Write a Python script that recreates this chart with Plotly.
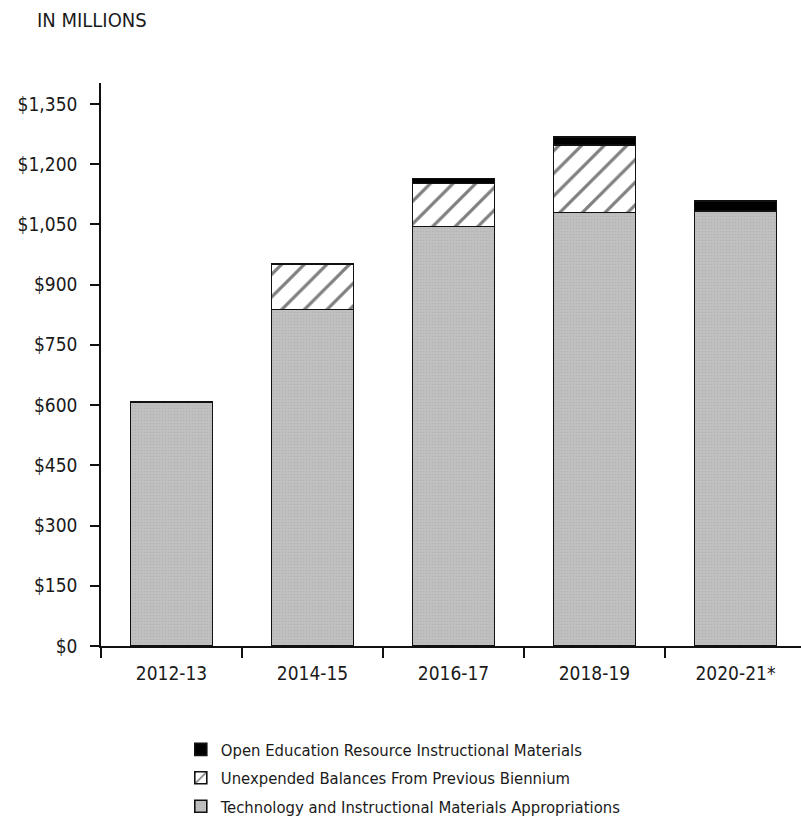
import plotly.graph_objects as go

# Biennium funding, in millions of dollars
biennia = ["2012-13", "2014-15", "2016-17", "2018-19", "2020-21*"]
tech_appropriations = [607, 838, 1045, 1080, 1083]
unexpended_balances = [0, 113, 107, 168, 0]
open_education = [0, 0, 12, 20, 25]

y_ticks = [0, 150, 300, 450, 600, 750, 900, 1050, 1200, 1350]
y_tick_labels = ["$0", "$150", "$300", "$450", "$600", "$750", "$900",
                 "$1,050", "$1,200", "$1,350"]

FONT = "DejaVu Sans Condensed, Liberation Sans Narrow, sans-serif"
INK = "#1a1a1a"
outline = dict(color="#111111", width=1.6)

fig = go.Figure()
fig.add_trace(go.Bar(
    x=biennia, y=tech_appropriations,
    name="Technology and Instructional Materials Appropriations",
    legendgroup="tech", legendrank=3,
    marker=dict(color="#bebebe", line=outline,
                pattern=dict(shape=".", fgcolor="#a6a6a6", bgcolor="#c0c0c0",
                             size=3, solidity=0.25)),
))
fig.add_trace(go.Bar(
    x=biennia, y=unexpended_balances,
    name="Unexpended Balances From Previous Biennium",
    legendgroup="unexp", legendrank=2,
    marker=dict(color="white", line=outline,
                pattern=dict(shape="/", fgcolor="#000000", bgcolor="white",
                             size=16, solidity=0.2)),
))
fig.add_trace(go.Bar(
    x=biennia, y=open_education,
    name="Open Education Resource Instructional Materials",
    legendgroup="oer", legendrank=1,
    marker=dict(color="black", line=outline),
))

fig.update_layout(
    barmode="stack",
    bargap=0.42,
    width=801, height=833,
    margin=dict(l=101, r=0, t=83, b=187),
    paper_bgcolor="white", plot_bgcolor="white",
    font=dict(family=FONT, color=INK, size=17),
    showlegend=True,
    legend=dict(
        traceorder="grouped",
        orientation="v",
        x=0.114, y=-0.153, xanchor="left", yanchor="top",
        font=dict(family=FONT, size=16.5, color=INK),
        tracegroupgap=4,
        bgcolor="rgba(0,0,0,0)",
    ),
    annotations=[dict(
        text="IN MILLIONS", xref="paper", yref="paper",
        x=-0.094, y=1.112, xanchor="left", yanchor="middle",
        showarrow=False, font=dict(family=FONT, size=20, color=INK),
    )],
)

fig.update_xaxes(
    type="category",
    range=[-0.5, 4.465],
    showline=True, linecolor="#111111", linewidth=1.6,
    ticks="outside", ticklen=10, tickwidth=1.6, tickcolor="#111111",
    tickson="boundaries",
    ticklabelstandoff=9,
    tickfont=dict(family=FONT, size=19, color=INK),
    showgrid=False, zeroline=False,
)
fig.update_yaxes(
    range=[0, 1402],
    tickvals=y_ticks, ticktext=y_tick_labels,
    showline=True, linecolor="#111111", linewidth=1.6,
    ticks="outside", ticklen=9, tickwidth=1.6, tickcolor="#111111",
    ticklabelstandoff=9,
    tickfont=dict(family=FONT, size=19, color=INK),
    showgrid=False, zeroline=False,
)

fig.write_html("out.html")
